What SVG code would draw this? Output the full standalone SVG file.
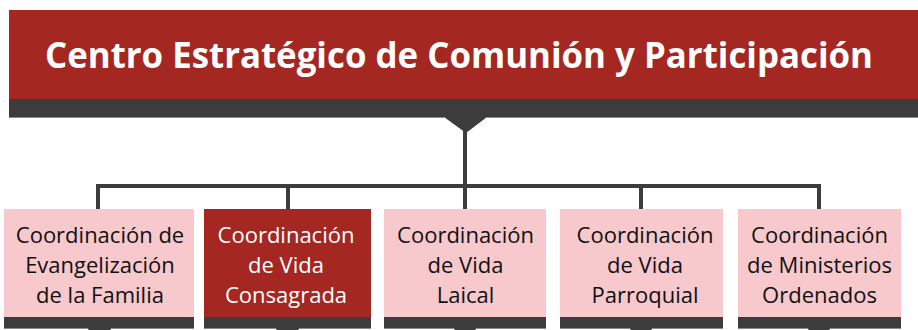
<svg xmlns="http://www.w3.org/2000/svg" width="918" height="330" viewBox="0 0 918 330">
<defs>
<style>
.red{fill:#a52722}
.pink{fill:#f7c8cc}
.dark{fill:#3c3c3c}
.edge{stroke:#8a8a8a;stroke-width:1}
.title{font-family:"Open Sans","Liberation Sans",sans-serif;font-weight:bold;font-size:35px;fill:#ffffff}
.lbl{font-family:"Open Sans","Liberation Sans",sans-serif;font-size:22px;fill:#111111;text-anchor:middle}
.lbl.w{fill:#ffffff}
.conn{fill:none;stroke:#3c3c3c;stroke-width:4}
</style>
</defs>
<rect width="918" height="330" fill="#ffffff"/>
<g id="connectors">
<line class="conn" x1="465" y1="117" x2="465" y2="186"/>
<polyline class="conn" points="98,209 98,186 819,186 819,209"/>
<line class="conn" x1="288" y1="186" x2="288" y2="209"/>
<line class="conn" x1="465" y1="186" x2="465" y2="209"/>
<line class="conn" x1="641" y1="186" x2="641" y2="209"/>
</g>
<g id="header">
<rect class="red" x="9" y="10" width="909" height="89"/>
<path class="dark" d="M9,99 H918 V117 H487 L466,133 L444,117 H9 Z"/>
<line class="edge" x1="9" y1="117.5" x2="444" y2="117.5"/>
<line class="edge" x1="487" y1="117.5" x2="918" y2="117.5"/>
<text class="title" x="45" y="68" textLength="828" lengthAdjust="spacingAndGlyphs">Centro Estratégico de Comunión y Participación</text>
</g>
<g id="box1">
<rect class="pink" x="4" y="209" width="190" height="108"/>
<path class="dark" d="M4,317 H194 V328 H112 L110,330 H89 L87,328 H4 Z"/>
<line class="edge" x1="4" y1="328.5" x2="87" y2="328.5"/><line class="edge" x1="112" y1="328.5" x2="194" y2="328.5"/>
<text class="lbl" x="100" y="243">Coordinación de</text>
<text class="lbl" x="100" y="273">Evangelización</text>
<text class="lbl" x="100" y="303">de la Familia</text>
</g>
<g id="box2">
<rect class="red" x="204" y="209" width="167" height="108"/>
<path class="dark" d="M204,317 H371 V328 H300 L298,330 H277 L275,328 H204 Z"/>
<line class="edge" x1="204" y1="328.5" x2="275" y2="328.5"/><line class="edge" x1="300" y1="328.5" x2="371" y2="328.5"/>
<text class="lbl w" x="286" y="243">Coordinación</text>
<text class="lbl w" x="286" y="273">de Vida</text>
<text class="lbl w" x="286" y="303">Consagrada</text>
</g>
<g id="box3">
<rect class="pink" x="384" y="209" width="162" height="108"/>
<path class="dark" d="M384,317 H546 V328 H477 L475,330 H455 L453,328 H384 Z"/>
<line class="edge" x1="384" y1="328.5" x2="453" y2="328.5"/><line class="edge" x1="477" y1="328.5" x2="546" y2="328.5"/>
<text class="lbl" x="465.5" y="243">Coordinación</text>
<text class="lbl" x="465.5" y="273">de Vida</text>
<text class="lbl" x="465.5" y="303">Laical</text>
</g>
<g id="box4">
<rect class="pink" x="560" y="209" width="163" height="108"/>
<path class="dark" d="M560,317 H723 V328 H653 L651,330 H631 L629,328 H560 Z"/>
<line class="edge" x1="560" y1="328.5" x2="629" y2="328.5"/><line class="edge" x1="653" y1="328.5" x2="723" y2="328.5"/>
<text class="lbl" x="645" y="243">Coordinación</text>
<text class="lbl" x="645" y="273">de Vida</text>
<text class="lbl" x="645" y="303">Parroquial</text>
</g>
<g id="box5">
<rect class="pink" x="738" y="209" width="163" height="108"/>
<path class="dark" d="M738,317 H901 V328 H831 L829,330 H809 L807,328 H738 Z"/>
<line class="edge" x1="738" y1="328.5" x2="807" y2="328.5"/><line class="edge" x1="831" y1="328.5" x2="901" y2="328.5"/>
<text class="lbl" x="819.5" y="243">Coordinación</text>
<text class="lbl" x="819.5" y="273">de Ministerios</text>
<text class="lbl" x="819.5" y="303">Ordenados</text>
</g>
</svg>
